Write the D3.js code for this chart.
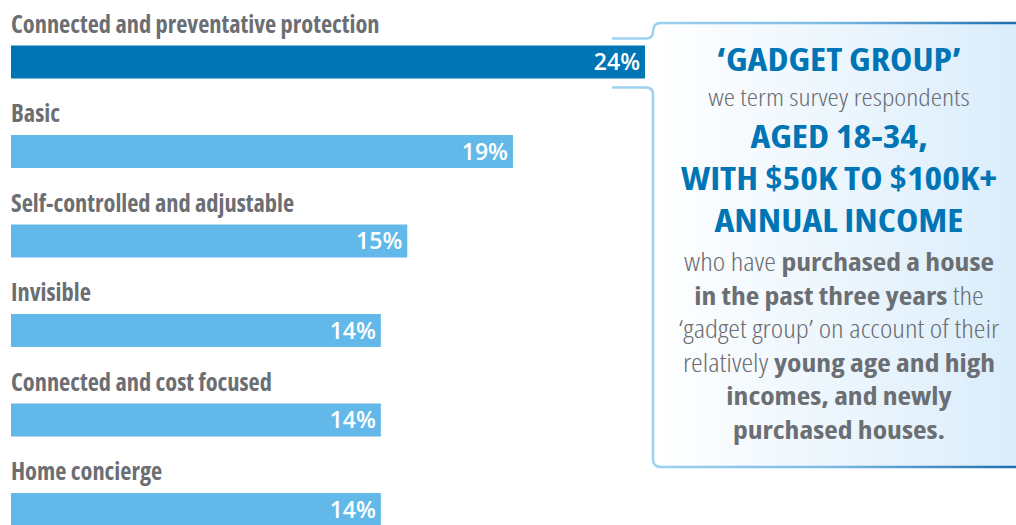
<!DOCTYPE html>
<html>
<head>
<meta charset="utf-8">
<script src="https://cdn.jsdelivr.net/npm/d3@7"></script>
<style>
  body { margin: 0; background: #fff; }
  svg text { font-family: "Open Sans", sans-serif; font-stretch: condensed; }
</style>
</head>
<body>
<div id="vis"></div>
<script>
// data
const categories = [
  "Connected and preventative protection",
  "Basic",
  "Self-controlled and adjustable",
  "Invisible",
  "Connected and cost focused",
  "Home concierge"
];
const shares = [24, 19, 15, 14, 14, 14];
const highlighted = ["Connected and preventative protection"];

// callout lines: [text, bold?]
const titleLines = ["\u2018GADGET GROUP\u2019"];
const introLine = "we term survey respondents";
const groupLines = ["AGED 18-34,", "WITH $50K TO $100K+", "ANNUAL INCOME"];
const bodyLines = [
  [["who have ", false], ["purchased a house", true]],
  [["in the past three years", true], [" the", false]],
  [["\u2018gadget group\u2019 on account of their", false]],
  [["relatively ", false], ["young age and high", true]],
  [["incomes, and newly", true]],
  [["purchased houses.", true]]
];

//#region layout
const W = 1016, H = 525;
const barH = 33;
const DARK = "#0075b5", LIGHT = "#62b9e9", GREY = "#6b6e73";

const svg = d3.select("#vis").append("svg")
  .attr("width", W).attr("height", H);

const x = d3.scaleLinear()
  .domain([0, d3.max(shares)])
  .range([11, 645]);

const y = d3.scaleBand()
  .domain(categories)
  .range([45.5, 45.5 + 89.5 * categories.length]);

const rows = categories.map((c, i) => ({ name: c, value: shares[i] }));
//#endregion

//#region callout box
const defs = svg.append("defs");
const fillGrad = defs.append("linearGradient")
  .attr("id", "boxfill").attr("gradientUnits", "userSpaceOnUse")
  .attr("x1", 653).attr("x2", 1016).attr("y1", 0).attr("y2", 0);
fillGrad.append("stop").attr("offset", 0).attr("stop-color", "#ffffff");
fillGrad.append("stop").attr("offset", 1).attr("stop-color", "#daedfb");

const strokeGrad = defs.append("linearGradient")
  .attr("id", "boxstroke").attr("gradientUnits", "userSpaceOnUse")
  .attr("x1", 640).attr("x2", 1016).attr("y1", 0).attr("y2", 0);
strokeGrad.append("stop").attr("offset", 0).attr("stop-color", "#9ed2f1");
strokeGrad.append("stop").attr("offset", 0.5).attr("stop-color", "#7dbbe6");
strokeGrad.append("stop").attr("offset", 1).attr("stop-color", "#1f6ead");

const bx = 653, boxTop = 23, boxBottom = 467, r = 8, boxRight = 1040;
const hiTop = y(highlighted[0]) - 7, hiBot = y(highlighted[0]) + barH + 9;

const fillPath = d3.path();
fillPath.moveTo(bx, boxTop + r);
fillPath.quadraticCurveTo(bx, boxTop, bx + r, boxTop);
fillPath.lineTo(boxRight, boxTop);
fillPath.lineTo(boxRight, boxBottom);
fillPath.lineTo(bx + r, boxBottom);
fillPath.quadraticCurveTo(bx, boxBottom, bx, boxBottom - r);
fillPath.closePath();
svg.append("path").attr("d", fillPath.toString()).attr("fill", "url(#boxfill)");

const upper = d3.path();
upper.moveTo(612, hiTop);
upper.lineTo(bx - 7, hiTop);
upper.quadraticCurveTo(bx, hiTop, bx, hiTop - 7);
upper.quadraticCurveTo(bx, boxTop, bx + r, boxTop);
upper.lineTo(boxRight, boxTop);

const lower = d3.path();
lower.moveTo(612, hiBot);
lower.lineTo(bx - 7, hiBot);
lower.quadraticCurveTo(bx, hiBot, bx, hiBot + 7);
lower.lineTo(bx, boxBottom - r);
lower.quadraticCurveTo(bx, boxBottom, bx + r, boxBottom);
lower.lineTo(boxRight, boxBottom);

svg.selectAll("path.edge")
  .data([upper, lower])
  .enter().append("path")
    .attr("class", "edge")
    .attr("d", d => d.toString())
    .attr("fill", "none")
    .attr("stroke", "url(#boxstroke)")
    .attr("stroke-width", 2.5);

// text is a condensed face widened a bit to look semi-condensed
const cx = 839;
const callout = svg.append("g")
  .attr("transform", `translate(${cx},0) scale(1.16,1)`);

callout.append("text")
  .attr("x", 0).attr("y", 71)
  .attr("text-anchor", "middle")
  .attr("fill", DARK).attr("font-size", 32.5).attr("font-weight", 700)
  .text(titleLines[0]);

callout.append("text")
  .attr("x", 0).attr("y", 106)
  .attr("text-anchor", "middle")
  .attr("fill", GREY).attr("font-size", 24.5).attr("font-weight", 300)
  .text(introLine);

callout.selectAll("text.group")
  .data(groupLines)
  .enter().append("text")
    .attr("class", "group")
    .attr("x", 0).attr("y", (d, i) => 148 + i * 42)
    .attr("text-anchor", "middle")
    .attr("fill", DARK).attr("font-size", 32.5).attr("font-weight", 700)
    .text(d => d);

const body = callout.selectAll("text.body")
  .data(bodyLines)
  .enter().append("text")
    .attr("class", "body")
    .attr("x", 0).attr("y", (d, i) => 271 + i * 33.6)
    .attr("text-anchor", "middle")
    .attr("fill", GREY).attr("font-size", 25.5);

body.selectAll("tspan")
  .data(d => d)
  .enter().append("tspan")
    .attr("font-weight", d => d[1] ? 700 : 300)
    .text(d => d[0]);
//#endregion

//#region bars
svg.selectAll("rect.bar")
  .data(rows)
  .enter().append("rect")
    .attr("class", "bar")
    .attr("x", x(0))
    .attr("y", d => y(d.name))
    .attr("width", d => x(d.value) - x(0))
    .attr("height", barH)
    .attr("fill", d => highlighted.includes(d.name) ? DARK : LIGHT);

svg.selectAll("text.label")
  .data(rows)
  .enter().append("text")
    .attr("class", "label")
    .attr("x", x(0))
    .attr("y", d => y(d.name) - 13)
    .attr("fill", GREY).attr("font-size", 24.4).attr("font-weight", 700)
    .text(d => d.name);

svg.selectAll("text.value")
  .data(rows)
  .enter().append("text")
    .attr("class", "value")
    .attr("x", d => x(d.value) - 5)
    .attr("y", d => y(d.name) + barH / 2 + 8)
    .attr("text-anchor", "end")
    .attr("fill", "#fff").attr("font-size", 23).attr("font-weight", 600)
    .style("font-stretch", "normal")
    .text(d => d.value + "%");
//#endregion
</script>
</body>
</html>
